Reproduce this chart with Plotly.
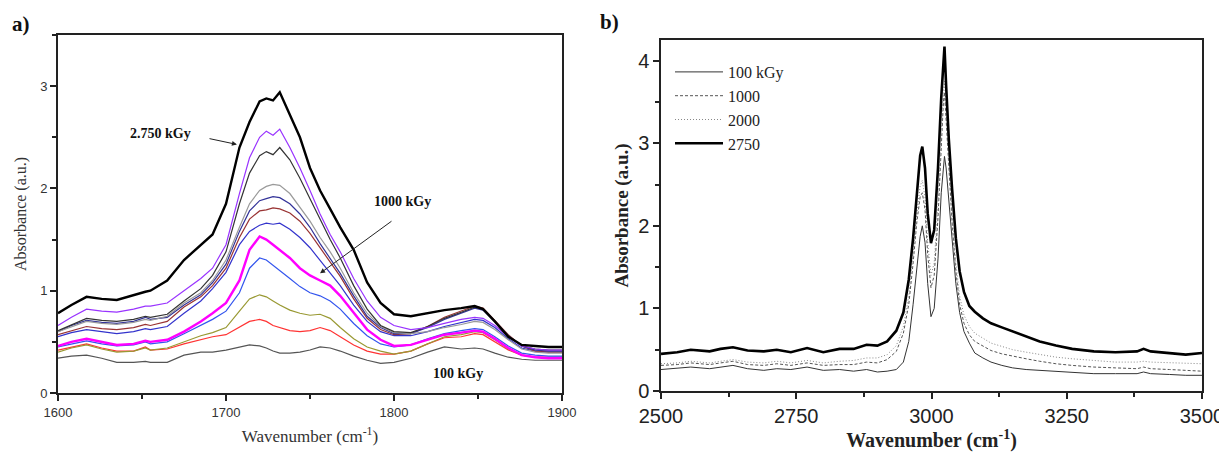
import plotly.graph_objects as go

# ---------------- Panel a data ----------------
wn_a = [1600, 1608, 1617, 1626, 1635, 1645, 1652, 1655, 1665, 1675, 1685, 1692, 1700, 1708, 1714, 1720,
        1724, 1728, 1732, 1738, 1744, 1750, 1756, 1762, 1768, 1776, 1784, 1792, 1800, 1810, 1820, 1830,
        1840, 1848, 1853, 1860, 1868, 1876, 1884, 1892, 1900]

a_gray100 = [0.34, 0.36, 0.37, 0.34, 0.30, 0.30, 0.31, 0.30, 0.30, 0.37, 0.40, 0.40, 0.42, 0.45, 0.47, 0.46,
             0.44, 0.41, 0.39, 0.39, 0.40, 0.42, 0.45, 0.44, 0.41, 0.36, 0.32, 0.29, 0.30, 0.34, 0.40, 0.45,
             0.43, 0.44, 0.43, 0.39, 0.35, 0.33, 0.32, 0.32, 0.32]
a_red = [0.42, 0.45, 0.48, 0.44, 0.41, 0.41, 0.45, 0.42, 0.43, 0.48, 0.52, 0.55, 0.57, 0.64, 0.70, 0.72,
         0.70, 0.66, 0.64, 0.61, 0.60, 0.61, 0.64, 0.61, 0.55, 0.47, 0.41, 0.38, 0.38, 0.41, 0.48, 0.54,
         0.55, 0.58, 0.57, 0.50, 0.42, 0.37, 0.35, 0.35, 0.35]
a_olive = [0.40, 0.44, 0.47, 0.43, 0.40, 0.41, 0.44, 0.42, 0.44, 0.50, 0.56, 0.59, 0.64, 0.80, 0.92, 0.96,
           0.94, 0.90, 0.86, 0.81, 0.78, 0.76, 0.77, 0.73, 0.64, 0.53, 0.45, 0.41, 0.38, 0.41, 0.48, 0.55,
           0.57, 0.60, 0.59, 0.52, 0.43, 0.37, 0.35, 0.34, 0.34]
a_blue2 = [0.45, 0.48, 0.51, 0.48, 0.46, 0.47, 0.50, 0.48, 0.50, 0.58, 0.66, 0.72, 0.80, 0.98, 1.22, 1.32,
           1.30, 1.25, 1.20, 1.12, 1.04, 0.98, 0.95, 0.90, 0.82, 0.68, 0.56, 0.48, 0.45, 0.47, 0.53, 0.58,
           0.61, 0.63, 0.62, 0.55, 0.46, 0.39, 0.37, 0.36, 0.36]
a_magenta = [0.46, 0.50, 0.53, 0.50, 0.47, 0.48, 0.51, 0.50, 0.52, 0.60, 0.70, 0.78, 0.88, 1.10, 1.40, 1.53,
             1.50, 1.45, 1.40, 1.32, 1.22, 1.15, 1.10, 1.05, 0.95, 0.78, 0.62, 0.52, 0.46, 0.47, 0.52, 0.57,
             0.59, 0.61, 0.60, 0.53, 0.44, 0.37, 0.35, 0.34, 0.34]
a_blue = [0.55, 0.59, 0.62, 0.60, 0.58, 0.60, 0.63, 0.62, 0.65, 0.78, 0.90, 1.02, 1.18, 1.45, 1.58, 1.64,
          1.66, 1.65, 1.66, 1.60, 1.52, 1.42, 1.30, 1.18, 1.05, 0.86, 0.70, 0.60, 0.56, 0.56, 0.60, 0.65,
          0.69, 0.72, 0.71, 0.64, 0.53, 0.44, 0.41, 0.40, 0.40]
a_brown = [0.57, 0.61, 0.65, 0.63, 0.62, 0.64, 0.67, 0.66, 0.70, 0.84, 0.94, 1.05, 1.22, 1.52, 1.70, 1.78,
           1.79, 1.81, 1.80, 1.76, 1.68, 1.56, 1.42, 1.28, 1.14, 0.92, 0.73, 0.62, 0.57, 0.58, 0.65, 0.74,
           0.80, 0.85, 0.83, 0.71, 0.57, 0.46, 0.41, 0.40, 0.40]
a_navy = [0.60, 0.66, 0.71, 0.69, 0.68, 0.70, 0.74, 0.72, 0.74, 0.86, 0.96, 1.08, 1.26, 1.58, 1.78, 1.88,
          1.90, 1.92, 1.91, 1.85, 1.75, 1.62, 1.46, 1.32, 1.17, 0.95, 0.75, 0.64, 0.58, 0.58, 0.64, 0.72,
          0.78, 0.83, 0.81, 0.70, 0.56, 0.46, 0.42, 0.41, 0.41]
a_lightgray = [0.60, 0.65, 0.70, 0.68, 0.67, 0.69, 0.72, 0.71, 0.75, 0.88, 0.98, 1.10, 1.30, 1.62, 1.85, 1.98,
               2.02, 2.04, 2.03, 1.95, 1.82, 1.68, 1.52, 1.38, 1.22, 0.98, 0.78, 0.65, 0.59, 0.58, 0.60, 0.64,
               0.67, 0.70, 0.69, 0.62, 0.52, 0.43, 0.40, 0.39, 0.39]
a_darkgray = [0.61, 0.67, 0.73, 0.71, 0.70, 0.72, 0.75, 0.74, 0.77, 0.90, 1.02, 1.15, 1.38, 1.85, 2.15, 2.32,
              2.36, 2.33, 2.40, 2.28, 2.10, 1.90, 1.70, 1.50, 1.32, 1.05, 0.82, 0.66, 0.60, 0.59, 0.65, 0.73,
              0.79, 0.84, 0.82, 0.70, 0.56, 0.46, 0.43, 0.42, 0.42]
a_purple = [0.66, 0.74, 0.82, 0.80, 0.79, 0.82, 0.85, 0.85, 0.88, 1.00, 1.12, 1.22, 1.45, 1.95, 2.30, 2.50,
            2.56, 2.52, 2.58, 2.40, 2.20, 1.98, 1.75, 1.55, 1.38, 1.12, 0.90, 0.74, 0.66, 0.62, 0.64, 0.68,
            0.72, 0.74, 0.73, 0.66, 0.55, 0.46, 0.43, 0.42, 0.42]
a_black = [0.78, 0.86, 0.94, 0.92, 0.91, 0.96, 0.99, 1.00, 1.10, 1.30, 1.45, 1.55, 1.85, 2.40, 2.65, 2.85,
           2.88, 2.86, 2.94, 2.72, 2.50, 2.20, 1.98, 1.80, 1.62, 1.40, 1.08, 0.88, 0.77, 0.75, 0.78, 0.81,
           0.83, 0.85, 0.82, 0.70, 0.55, 0.47, 0.46, 0.45, 0.45]

series_a = [
    (a_gray100, "#555555", 1.2),
    (a_red, "#ff3333", 1.2),
    (a_olive, "#999933", 1.2),
    (a_blue2, "#3355ee", 1.2),
    (a_blue, "#3333cc", 1.2),
    (a_brown, "#993333", 1.2),
    (a_navy, "#333399", 1.2),
    (a_lightgray, "#9a9a9a", 1.2),
    (a_darkgray, "#333333", 1.2),
    (a_purple, "#9933ff", 1.2),
    (a_magenta, "#ff00ff", 2.4),
    (a_black, "#000000", 2.4),
]

# ---------------- Panel b data ----------------
wn_b = [2500, 2530, 2555, 2590, 2610, 2633, 2660, 2690, 2714, 2740, 2770, 2800, 2830, 2856, 2880,
        2900, 2918, 2935, 2948, 2958, 2966, 2973, 2979, 2983, 2988, 2993, 2999, 3005, 3012, 3018,
        3022, 3024, 3027, 3032, 3038, 3045, 3052, 3060, 3070, 3080, 3095, 3110, 3130, 3150, 3175,
        3200, 3230, 3260, 3300, 3340, 3380, 3392, 3405, 3440, 3470, 3500]

b_100 = [0.26, 0.28, 0.29, 0.27, 0.29, 0.31, 0.27, 0.25, 0.27, 0.26, 0.29, 0.25, 0.26, 0.24, 0.26,
         0.23, 0.24, 0.26, 0.35, 0.60, 1.05, 1.47, 1.87, 2.00, 1.80, 1.30, 0.90, 1.00, 1.60, 2.40,
         2.78, 2.84, 2.70, 2.30, 1.85, 1.30, 0.95, 0.72, 0.58, 0.46, 0.40, 0.35, 0.31, 0.28, 0.26,
         0.25, 0.23, 0.22, 0.21, 0.21, 0.21, 0.23, 0.21, 0.20, 0.19, 0.19]
b_1000 = [0.31, 0.32, 0.34, 0.32, 0.34, 0.36, 0.32, 0.31, 0.33, 0.31, 0.34, 0.31, 0.32, 0.32, 0.35,
          0.34, 0.38, 0.48, 0.70, 1.05, 1.55, 2.05, 2.35, 2.40, 2.20, 1.65, 1.25, 1.40, 2.10, 3.00,
          3.50, 3.62, 3.30, 2.65, 2.05, 1.45, 1.05, 0.82, 0.68, 0.60, 0.54, 0.49, 0.45, 0.42, 0.39,
          0.36, 0.33, 0.31, 0.29, 0.28, 0.27, 0.29, 0.27, 0.26, 0.25, 0.24]
b_2000 = [0.33, 0.34, 0.36, 0.34, 0.36, 0.38, 0.35, 0.34, 0.36, 0.34, 0.37, 0.34, 0.36, 0.37, 0.40,
          0.40, 0.44, 0.55, 0.78, 1.15, 1.65, 2.15, 2.48, 2.55, 2.35, 1.80, 1.40, 1.55, 2.25, 3.15,
          3.65, 3.75, 3.40, 2.75, 2.15, 1.55, 1.15, 0.92, 0.78, 0.70, 0.64, 0.58, 0.54, 0.50, 0.47,
          0.44, 0.41, 0.39, 0.37, 0.35, 0.35, 0.36, 0.35, 0.34, 0.33, 0.33]
b_2750 = [0.45, 0.47, 0.50, 0.48, 0.51, 0.53, 0.49, 0.48, 0.50, 0.47, 0.52, 0.47, 0.51, 0.51, 0.56,
          0.55, 0.60, 0.73, 0.95, 1.35, 1.85, 2.45, 2.85, 2.96, 2.70, 2.15, 1.79, 1.95, 2.70, 3.55,
          3.95, 4.17, 3.70, 3.05, 2.45, 1.85, 1.45, 1.20, 1.03, 0.96, 0.88, 0.82, 0.77, 0.72, 0.66,
          0.60, 0.55, 0.51, 0.48, 0.47, 0.48, 0.51, 0.48, 0.46, 0.44, 0.46]

legend_names = ["100 kGy", "1000", "2000", "2750"]
series_b = [
    (b_100, "#333333", 1.0, "solid"),
    (b_1000, "#555555", 1.0, "3px,2px"),
    (b_2000, "#888888", 1.0, "1px,2px"),
    (b_2750, "#000000", 2.6, "solid"),
]

# page has an 8px body margin: the figure origin sits at (8, 8) on screen
OFF = 8
W, H = 1227 - OFF, 453 - OFF
SERIF = "Liberation Serif"
SANS = "Liberation Sans"

fig = go.Figure()
for ys, col, w in series_a:
    fig.add_trace(go.Scatter(x=wn_a, y=ys, mode="lines", line=dict(color=col, width=w),
                             showlegend=False, xaxis="x", yaxis="y", hoverinfo="skip"))
for (ys, col, w, dash), name in zip(series_b, legend_names):
    fig.add_trace(go.Scatter(x=wn_b, y=ys, mode="lines", name=name,
                             line=dict(color=col, width=w, dash=dash),
                             xaxis="x2", yaxis="y2", hoverinfo="skip"))

def px_x(p):
    return (p - OFF) / W

def px_y(p):
    return 1 - (p - OFF) / H

common_axis = dict(showgrid=False, zeroline=False, showline=True, mirror=True,
                   linecolor="#222", ticks="outside", tickcolor="#222", automargin=False)

fig.update_layout(
    width=W, height=H,
    margin=dict(l=0, r=0, t=0, b=0),
    paper_bgcolor="white", plot_bgcolor="white",
    xaxis=dict(domain=[px_x(58), px_x(562)], range=[1600, 1900], anchor="y",
               tickvals=[1600, 1700, 1800, 1900], ticklen=6, linewidth=2, tickwidth=1.5,
               minor=dict(ticks="outside", ticklen=4, dtick=50, tick0=1600, tickcolor="#222"),
               tickfont=dict(family=SANS, size=13, color="#333"),
               title=dict(text="Wavenumber (cm<sup>-1</sup>)", font=dict(family=SERIF, size=17, color="#333"),
                          standoff=12),
               **common_axis),
    yaxis=dict(domain=[px_y(393), px_y(35)], range=[0, 3.5], anchor="x",
               tickvals=[0, 1, 2, 3], ticklen=6, linewidth=2, tickwidth=1.5,
               minor=dict(ticks="outside", ticklen=4, dtick=0.5, tick0=0, tickcolor="#222"),
               tickfont=dict(family=SANS, size=13, color="#333"),
               title=dict(text="Absorbance (a.u.)", font=dict(family=SERIF, size=16, color="#333"),
                          standoff=10),
               **common_axis),
    xaxis2=dict(domain=[px_x(661), px_x(1202)], range=[2500, 3500], anchor="y2",
                tickvals=[2500, 2750, 3000, 3250, 3500], ticklen=6, linewidth=1.5, tickwidth=1.5,
                minor=dict(ticks="outside", ticklen=4, dtick=125, tick0=2500, tickcolor="#222"),
                tickfont=dict(family=SANS, size=20, color="#222"),
                title=dict(text="<b>Wavenumber (cm<sup>-1</sup>)</b>", font=dict(family=SERIF, size=20, color="#222"),
                           standoff=6),
                **common_axis),
    yaxis2=dict(domain=[px_y(391), px_y(40)], range=[0, 4.25], anchor="x2",
                tickvals=[0, 1, 2, 3, 4], ticklen=6, linewidth=1.5, tickwidth=1.5,
                minor=dict(ticks="outside", ticklen=4, dtick=0.5, tick0=0, tickcolor="#222"),
                tickfont=dict(family=SANS, size=20, color="#222"),
                title=dict(text="<b>Absorbance (a.u.)</b>", font=dict(family=SERIF, size=19, color="#222"),
                           standoff=4),
                **common_axis),
    legend=dict(x=px_x(670), y=px_y(55), xanchor="left", yanchor="top",
                font=dict(family=SERIF, size=16, color="#222"), bgcolor="rgba(0,0,0,0)",
                tracegroupgap=0, itemwidth=48),
)

# panel labels
fig.add_annotation(text="<b>a)</b>", x=px_x(10), y=px_y(24), xref="paper", yref="paper",
                   xanchor="left", yanchor="middle", showarrow=False,
                   font=dict(family=SERIF, size=21, color="#111"))
fig.add_annotation(text="<b>b)</b>", x=px_x(598), y=px_y(22), xref="paper", yref="paper",
                   xanchor="left", yanchor="middle", showarrow=False,
                   font=dict(family=SERIF, size=21, color="#111"))

# panel a labels and arrows
lab_font = dict(family=SERIF, size=14, color="#111")
fig.add_annotation(text="<b>2.750 kGy</b>", x=1661, y=2.54, xref="x", yref="y", showarrow=False, font=lab_font)
fig.add_annotation(text="<b>1000 kGy</b>", x=1805, y=1.87, xref="x", yref="y", showarrow=False, font=lab_font)
fig.add_annotation(text="<b>100 kGy</b>", x=1838, y=0.19, xref="x", yref="y", showarrow=False, font=lab_font)
fig.add_annotation(text="", x=1706.5, y=2.43, ax=1689.3, ay=2.49, xref="x", yref="y", axref="x", ayref="y",
                   showarrow=True, arrowhead=2, arrowsize=1, arrowwidth=1, arrowcolor="#222")
fig.add_annotation(text="", x=1756, y=1.17, ax=1799.4, ay=1.69, xref="x", yref="y", axref="x", ayref="y",
                   showarrow=True, arrowhead=2, arrowsize=1, arrowwidth=1, arrowcolor="#222")

fig.write_html("out.html")
